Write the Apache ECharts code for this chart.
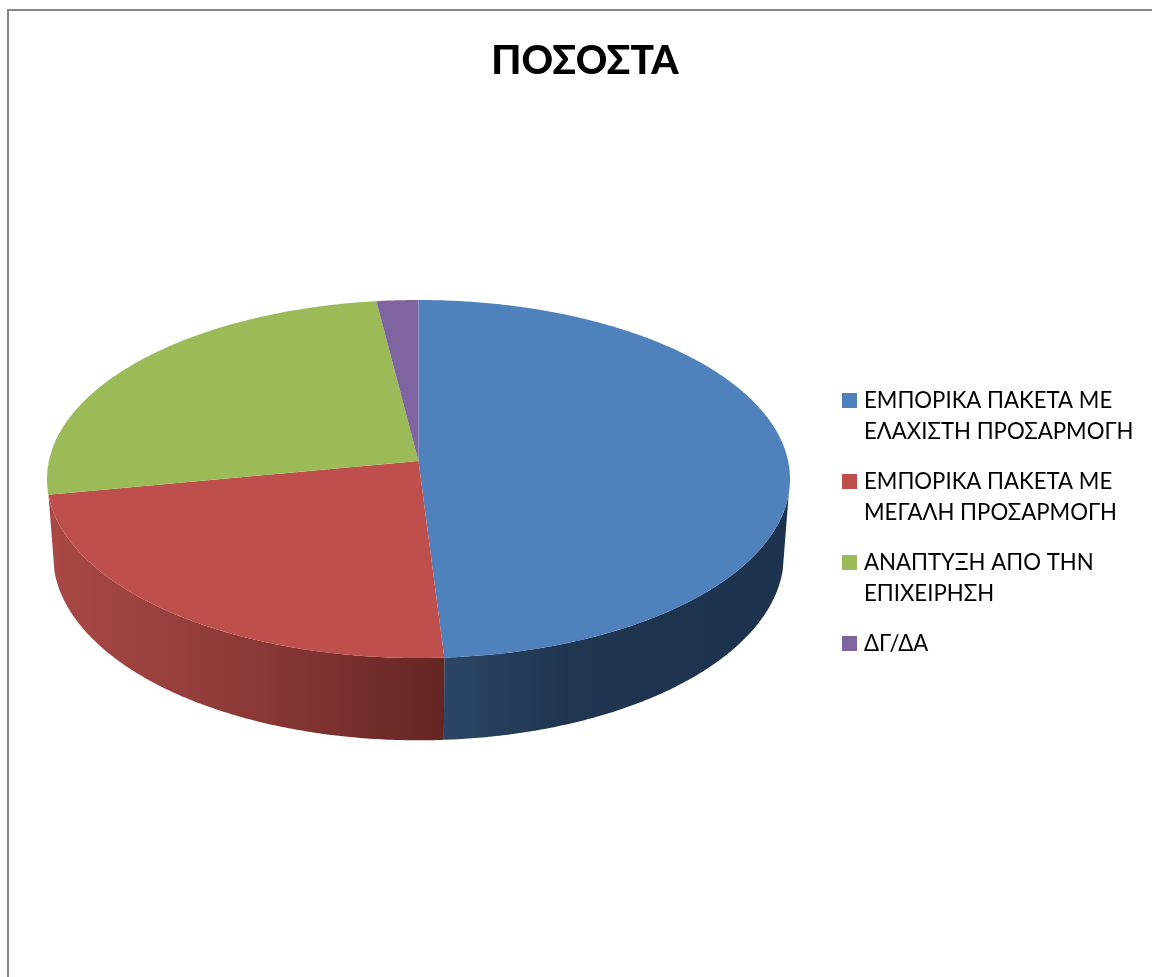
<!DOCTYPE html>
<html>
<head>
<meta charset="utf-8">
<style>html,body{margin:0;padding:0;background:#fff}#c{width:1152px;height:977px}</style>
<script src="https://cdn.jsdelivr.net/npm/echarts@6/dist/echarts.min.js"></script>
</head>
<body>
<div id="c"></div>
<script>
const chartTitle = 'ΠΟΣΟΣΤΑ';
const categories = [
  'ΕΜΠΟΡΙΚΑ ΠΑΚΕΤΑ ΜΕ ΕΛΑΧΙΣΤΗ ΠΡΟΣΑΡΜΟΓΗ',
  'ΕΜΠΟΡΙΚΑ ΠΑΚΕΤΑ ΜΕ ΜΕΓΑΛΗ ΠΡΟΣΑΡΜΟΓΗ',
  'ΑΝΑΠΤΥΞΗ ΑΠΌ ΤΗΝ ΕΠΙΧΕΙΡΗΣΗ',
  'ΔΓ/ΔΑ'
];
const legendLines = [
  'ΕΜΠΟΡΙΚΑ ΠΑΚΕΤΑ ΜΕ\nΕΛΑΧΙΣΤΗ ΠΡΟΣΑΡΜΟΓΗ',
  'ΕΜΠΟΡΙΚΑ ΠΑΚΕΤΑ ΜΕ\nΜΕΓΑΛΗ ΠΡΟΣΑΡΜΟΓΗ',
  'ΑΝΑΠΤΥΞΗ ΑΠΌ ΤΗΝ\nΕΠΙΧΕΙΡΗΣΗ',
  'ΔΓ/ΔΑ\n '
];
const shares = [49, 23, 26, 2];
const topColors = ['#4f81bd', '#be4f4c', '#9bbb59', '#8064a2'];

// Wall shading per slice: start colour, end colour and the x span of the ramp.
const wallRamps = [
  { stops: [[0, '#2b4666'], [0.35, '#203650'], [1, '#1d324c']], x0: 444, x1: 790 },
  { stops: [[0, '#a94845'], [0.5, '#8c3a37'], [1, '#652523']], x0: 50, x1: 444 },
  null,
  null
];

// Tilted-disc projection: u is across, v runs towards the viewer.
const persp = 0.1006;
const topRim = { cx: 418.5, cy: 461, a: 369.6, b: 177.2 };
const lowRim = { cx: 418.5, cy: 536.5, a: 363.6, b: 183.3 };
const wallFromV = 0.18;

function project(rim, deg) {
  const t = deg * Math.PI / 180;
  const u = Math.sin(t), v = -Math.cos(t);
  const d = 1 - persp * v;
  return [rim.cx + rim.a * u / d, rim.cy + rim.b * v / d];
}

function arcAngles(from, to) {
  const out = [];
  const n = Math.max(2, Math.ceil((to - from) / 0.5));
  for (let i = 0; i <= n; i++) out.push(from + (to - from) * i / n);
  return out;
}

const total = shares.reduce((s, x) => s + x, 0);
const startPct = shares.map((_, i) => shares.slice(0, i).reduce((s, x) => s + x, 0));

// The side wall only shows on the near half of the disc.
const wallStart = 180 - Math.asin(Math.sqrt(1 - wallFromV * wallFromV)) * 180 / Math.PI;
const wallEnd = 360 - wallStart;

function renderSlice(index) {
  return function (params, api) {
    const from = startPct[index] / total * 360;
    const to = from + api.value(0) / total * 360;
    const children = [];

    const a0 = Math.max(from, wallStart), a1 = Math.min(to, wallEnd);
    const ramp = wallRamps[index];
    if (ramp && a1 > a0) {
      const angles = arcAngles(a0, a1);
      const pts = angles.map(a => project(topRim, a))
        .concat(angles.slice().reverse().map(a => project(lowRim, a)));
      children.push({
        type: 'polygon',
        shape: { points: pts },
        style: {
          fill: {
            type: 'linear', global: true,
            x: ramp.x0, y: 0, x2: ramp.x1, y2: 0,
            colorStops: ramp.stops.map(s => ({ offset: s[0], color: s[1] }))
          }
        }
      });
    }

    const apex = [topRim.cx, topRim.cy];
    children.push({
      type: 'polygon',
      shape: { points: [apex].concat(arcAngles(from, to).map(a => project(topRim, a))) },
      style: { fill: topColors[index] }
    });
    return { type: 'group', children };
  };
}

// Square sits on the first text line; the empty corners stretch the box to two lines.
const legendIcon = 'path://M0,0L0,0L0,0ZM15,62L15,62L15,62ZM0,8L15,8L15,23L0,23Z';

const chart = echarts.init(document.getElementById('c'), null, { renderer: 'canvas' });
chart.setOption({
  animation: false,
  backgroundColor: '#ffffff',
  title: {
    text: chartTitle,
    left: 585, top: 42, padding: 0, textAlign: 'center',
    textStyle: { fontFamily: 'Lato, "Open Sans", sans-serif', fontWeight: 900, fontSize: 39, color: '#000' }
  },
  legend: {
    orient: 'vertical',
    left: 842, top: 385,
    padding: 0,
    itemWidth: 15, itemHeight: 62, itemGap: 19,
    data: categories.map(name => ({ name, icon: legendIcon })),
    formatter: name => legendLines[categories.indexOf(name)],
    textStyle: {
      fontFamily: 'Lato, "Open Sans", sans-serif',
      fontSize: 22.2, lineHeight: 31, color: '#000', padding: [0, 0, 0, 2]
    },
    selectedMode: false
  },
  graphic: [
    { type: 'line', silent: true, shape: { x1: 8, y1: 10, x2: 8, y2: 977 }, style: { stroke: '#868686', lineWidth: 2 } },
    { type: 'line', silent: true, shape: { x1: 7, y1: 10, x2: 1152, y2: 10 }, style: { stroke: '#868686', lineWidth: 2 } }
  ],
  series: categories.map((name, i) => ({
    type: 'custom',
    name,
    coordinateSystem: 'none',
    silent: true,
    itemStyle: { color: topColors[i] },
    renderItem: renderSlice(i),
    data: [[shares[i]]]
  }))
});
</script>
</body>
</html>
